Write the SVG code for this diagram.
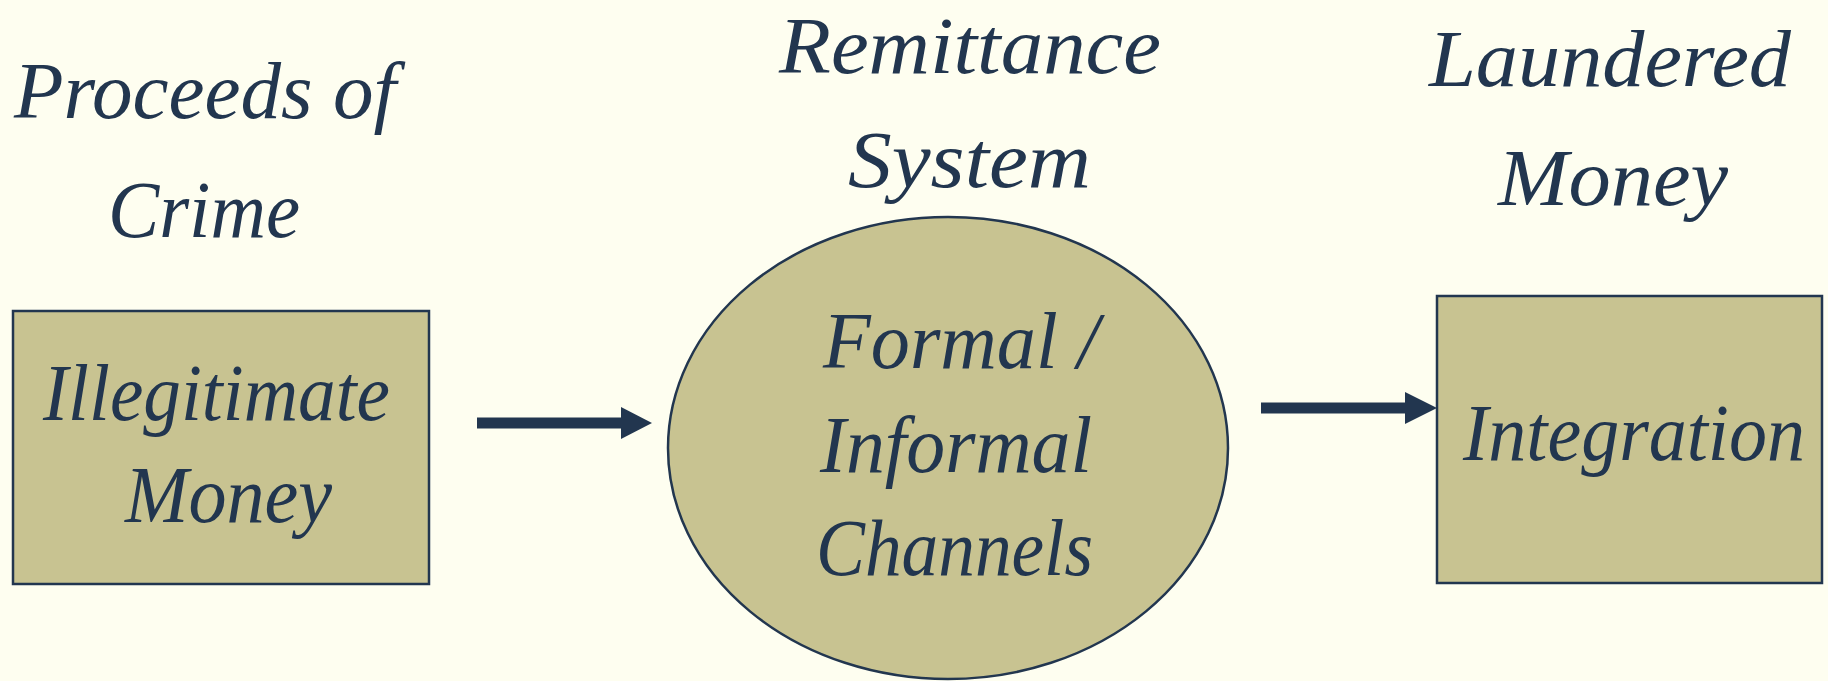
<svg xmlns="http://www.w3.org/2000/svg" width="1828" height="681" viewBox="0 0 1828 681">
  <style>
    .bg { fill: #FEFEF0; }
    .node { fill: #C8C391; stroke: #22364F; stroke-width: 2.5; }
    .lbl { font-family: "Liberation Serif", "DejaVu Serif", serif; font-style: italic; font-size: 80px; fill: #22364F; }
    .conn { stroke: #22364F; stroke-width: 11; fill: none; }
    .head { fill: #22364F; }
  </style>
  <rect class="bg" x="0" y="0" width="1828" height="681"/>

  <!-- stage headings -->
  <g id="headings">
    <text class="lbl" x="14" y="118" textLength="382" lengthAdjust="spacingAndGlyphs">Proceeds of</text>
    <text class="lbl" x="108" y="237" textLength="192" lengthAdjust="spacingAndGlyphs">Crime</text>
    <text class="lbl" x="779" y="73" textLength="382" lengthAdjust="spacingAndGlyphs">Remittance</text>
    <text class="lbl" x="848" y="187" textLength="243" lengthAdjust="spacingAndGlyphs">System</text>
    <text class="lbl" x="1429" y="86" textLength="362" lengthAdjust="spacingAndGlyphs">Laundered</text>
    <text class="lbl" x="1498" y="205" textLength="230" lengthAdjust="spacingAndGlyphs">Money</text>
  </g>

  <!-- source: illegitimate money -->
  <g id="node-illegitimate">
    <rect class="node" x="13" y="311" width="416" height="273"/>
    <text class="lbl" x="43" y="420" textLength="347" lengthAdjust="spacingAndGlyphs">Illegitimate</text>
    <text class="lbl" x="125" y="522" textLength="207" lengthAdjust="spacingAndGlyphs">Money</text>
  </g>

  <!-- remittance channels -->
  <g id="node-channels">
    <ellipse class="node" cx="948" cy="448" rx="280" ry="231"/>
    <text class="lbl" x="823" y="368" textLength="276" lengthAdjust="spacingAndGlyphs">Formal /</text>
    <text class="lbl" x="820" y="472" textLength="272" lengthAdjust="spacingAndGlyphs">Informal</text>
    <text class="lbl" x="816" y="575" textLength="277" lengthAdjust="spacingAndGlyphs">Channels</text>
  </g>

  <!-- destination: integration -->
  <g id="node-integration">
    <rect class="node" x="1437" y="296" width="385" height="287"/>
    <text class="lbl" x="1463" y="460" textLength="342" lengthAdjust="spacingAndGlyphs">Integration</text>
  </g>

  <!-- flow arrows -->
  <g id="connectors">
    <line class="conn" x1="477" y1="423" x2="624" y2="423"/>
    <polygon class="head" points="621,407 652,423 621,439"/>
    <line class="conn" x1="1261" y1="408" x2="1408" y2="408"/>
    <polygon class="head" points="1405,392 1437,408 1405,424"/>
  </g>
</svg>
